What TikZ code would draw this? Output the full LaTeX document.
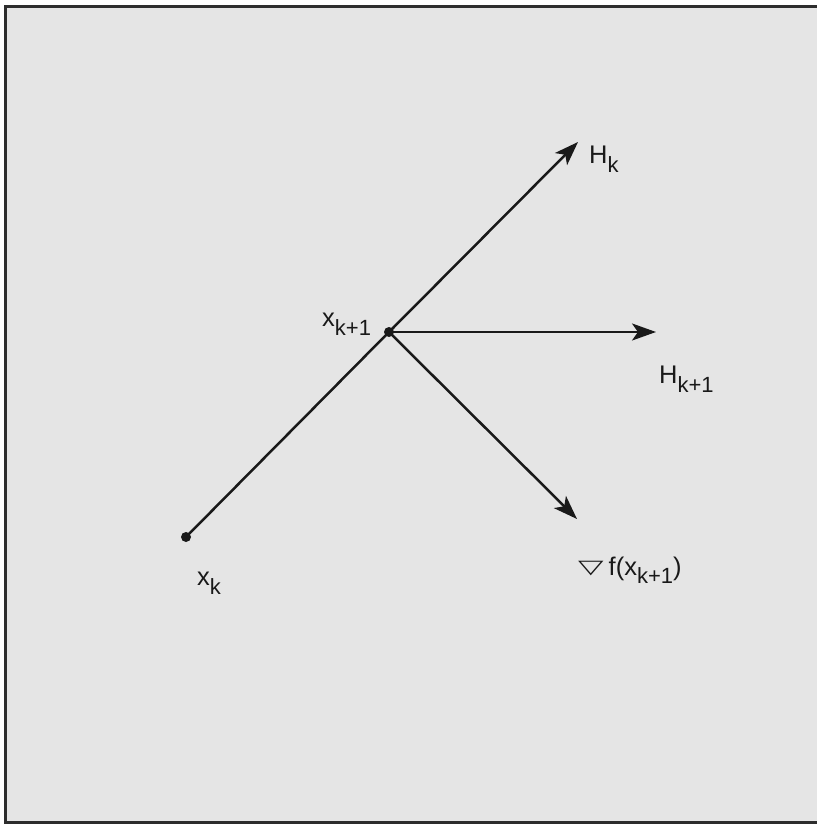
\documentclass[tikz,border=0pt]{standalone}
\usepackage{fontspec}
\setmainfont{Liberation Sans}
\newfontfamily\dejavu{DejaVu Sans}
\usetikzlibrary{arrows.meta}
\definecolor{paper}{RGB}{229,229,229}
\definecolor{frame}{RGB}{45,45,45}
\definecolor{ink}{RGB}{25,25,25}
\newcommand\lowsub[2][9pt]{\raisebox{-#1}{\fontsize{22}{22}\selectfont #2}}
\tikzset{
  lbl/.style={anchor=base west, inner sep=0pt, text=ink, font=\fontsize{25.5}{26}\selectfont},
  dotnode/.style={circle, fill=ink, inner sep=0pt, minimum size=10pt},
  vec/.style={draw=ink, line width=2.5pt, -{Stealth[length=24pt,width=17pt,inset=6pt]}},
  seg/.style={draw=ink, line width=2.5pt},
}
\begin{document}
\begin{tikzpicture}[x=1pt,y=-1pt]
\useasboundingbox (0,0) rectangle (816,826);
\fill[white] (0,0) rectangle (816,826);
\draw[frame, line width=3pt, fill=paper] (5,7) rectangle (840,822);
% points
\node[dotnode] (xk) at (186,537) {};
\node[dotnode] (xk1) at (389,332) {};
\coordinate (Hk) at (578,142);
\coordinate (Hk1) at (656,332);
\coordinate (gf) at (577,519);
% connectors
\draw[seg] (xk.center) -- (xk1.center);
\draw[vec] (xk1.center) -- (Hk);
\draw[vec] (xk1.center) -- (Hk1);
\draw[vec] (xk1.center) -- (gf);
% labels
\node[lbl] (lHk) at (589,164) {H\lowsub{k}};
\node[lbl] (lxk1) at (322,326) {x\lowsub{k+1}};
\node[lbl] (lHk1) at (659,383) {H\lowsub{k+1}};
\node[lbl] (lxk) at (197,585) {x\lowsub{k}};
\node[lbl] (lgf) at (578,575) {\raisebox{2pt}{\scalebox{1.3}[0.75]{\dejavu ▽}}\hspace{5pt}f(x\lowsub[8pt]{k+1})};
\end{tikzpicture}
\end{document}
